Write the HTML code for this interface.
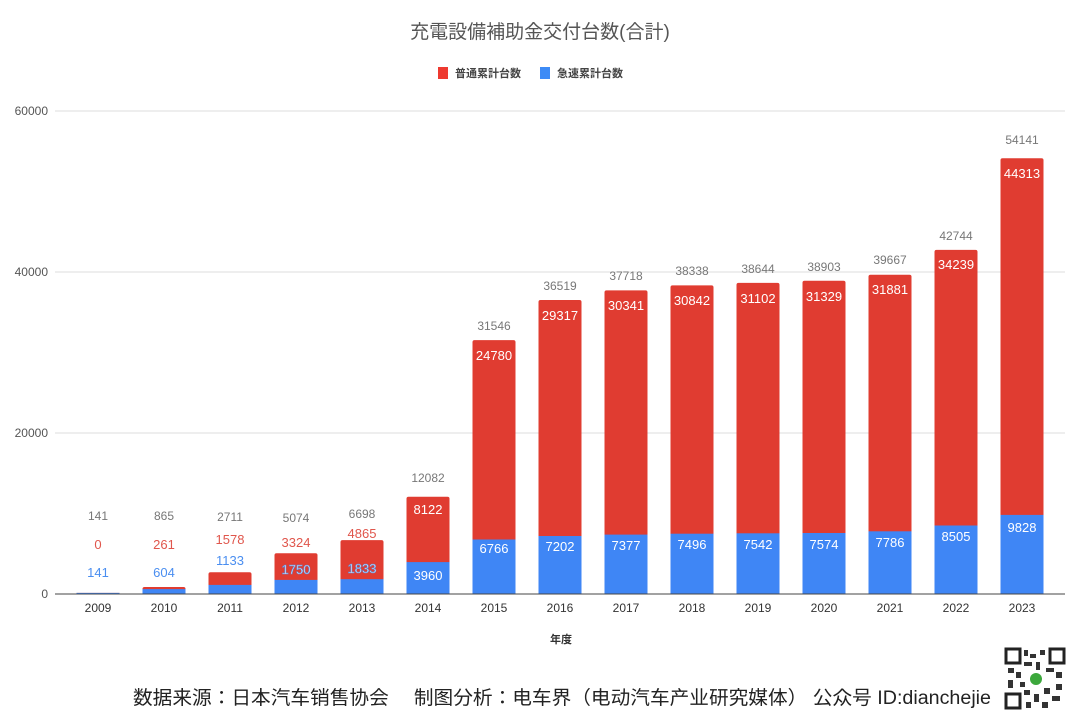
<!DOCTYPE html>
<html><head><meta charset="utf-8"><style>
body{margin:0;background:#fff;width:1080px;height:721px;overflow:hidden}
svg{display:block}
text{font-family:"Liberation Sans","Noto Sans CJK JP",sans-serif}
</style></head><body>
<svg width="1080" height="721" viewBox="0 0 1080 721" xmlns="http://www.w3.org/2000/svg">
<text x="540" y="38" text-anchor="middle" font-size="19" fill="#555" font-family="'Noto Sans CJK JP',sans-serif">充電設備補助金交付台数(合計)</text>
<rect x="438" y="67" width="10" height="12" fill="#ee3a30"/>
<text x="455" y="77" font-size="11" fill="#444" font-weight="bold" font-family="'Noto Sans CJK JP',sans-serif">普通累計台数</text>
<rect x="540" y="67" width="10" height="12" fill="#3d8bf6"/>
<text x="557" y="77" font-size="11" fill="#444" font-weight="bold" font-family="'Noto Sans CJK JP',sans-serif">急速累計台数</text>
<g stroke="#ddd" stroke-width="1">
<line x1="55" x2="1065" y1="111" y2="111"/><line x1="55" x2="1065" y1="272" y2="272"/><line x1="55" x2="1065" y1="433" y2="433"/>
</g>
<g font-size="12" fill="#555" text-anchor="end">
<text x="48" y="115">60000</text><text x="48" y="276">40000</text><text x="48" y="437">20000</text><text x="48" y="598">0</text>
</g>
<g fill="#e03c31">
<rect x="76.5" y="592.9" width="43" height="1.1"/>
<rect x="142.5" y="587" width="43" height="7" rx="2"/>
<rect x="208.5" y="572.2" width="43" height="21.8" rx="2"/>
<rect x="274.5" y="553.2" width="43" height="40.8" rx="2"/>
<rect x="340.5" y="540.1" width="43" height="53.9" rx="2"/>
<rect x="406.5" y="496.7" width="43" height="97.3" rx="2"/>
<rect x="472.5" y="340.1" width="43" height="253.9" rx="2"/>
<rect x="538.5" y="300" width="43" height="294" rx="2"/>
<rect x="604.5" y="290.4" width="43" height="303.6" rx="2"/>
<rect x="670.5" y="285.4" width="43" height="308.6" rx="2"/>
<rect x="736.5" y="282.9" width="43" height="311.1" rx="2"/>
<rect x="802.5" y="280.8" width="43" height="313.2" rx="2"/>
<rect x="868.5" y="274.7" width="43" height="319.3" rx="2"/>
<rect x="934.5" y="249.9" width="43" height="344.1" rx="2"/>
<rect x="1000.5" y="158.2" width="43" height="435.8" rx="2"/>
</g>
<g fill="#3f86f5">
<rect x="76.5" y="592.9" width="43" height="1.1"/>
<rect x="142.5" y="589.1" width="43" height="4.9"/>
<rect x="208.5" y="584.9" width="43" height="9.1"/>
<rect x="274.5" y="579.9" width="43" height="14.1"/>
<rect x="340.5" y="579.2" width="43" height="14.8"/>
<rect x="406.5" y="562.1" width="43" height="31.9"/>
<rect x="472.5" y="539.5" width="43" height="54.5"/>
<rect x="538.5" y="536" width="43" height="58"/>
<rect x="604.5" y="534.6" width="43" height="59.4"/>
<rect x="670.5" y="533.7" width="43" height="60.3"/>
<rect x="736.5" y="533.3" width="43" height="60.7"/>
<rect x="802.5" y="533" width="43" height="61"/>
<rect x="868.5" y="531.3" width="43" height="62.7"/>
<rect x="934.5" y="525.5" width="43" height="68.5"/>
<rect x="1000.5" y="514.9" width="43" height="79.1"/>
</g>
<line x1="55" x2="1065" y1="594" y2="594" stroke="#444" stroke-width="1"/>
<g font-size="12" fill="#333" text-anchor="middle">
<text x="98" y="612">2009</text><text x="164" y="612">2010</text><text x="230" y="612">2011</text><text x="296" y="612">2012</text><text x="362" y="612">2013</text><text x="428" y="612">2014</text><text x="494" y="612">2015</text><text x="560" y="612">2016</text><text x="626" y="612">2017</text><text x="692" y="612">2018</text><text x="758" y="612">2019</text><text x="824" y="612">2020</text><text x="890" y="612">2021</text><text x="956" y="612">2022</text><text x="1022" y="612">2023</text>
</g>
<g font-size="12" fill="#777" text-anchor="middle">
<text x="98" y="520">141</text><text x="164" y="520">865</text><text x="230" y="521">2711</text><text x="296" y="522">5074</text><text x="362" y="518">6698</text><text x="428" y="482">12082</text>
<text x="494" y="330">31546</text><text x="560" y="290">36519</text><text x="626" y="280">37718</text><text x="692" y="275">38338</text><text x="758" y="273">38644</text><text x="824" y="271">38903</text><text x="890" y="264">39667</text><text x="956" y="240">42744</text><text x="1022" y="144">54141</text>
</g>
<g font-size="13" fill="#e0564c" text-anchor="middle">
<text x="98" y="549">0</text><text x="164" y="549">261</text><text x="230" y="544">1578</text><text x="296" y="547">3324</text><text x="362" y="538">4865</text>
</g>
<g font-size="13" fill="#fff" text-anchor="middle">
<text x="428" y="514">8122</text><text x="494" y="360">24780</text><text x="560" y="320">29317</text><text x="626" y="310">30341</text><text x="692" y="305">30842</text><text x="758" y="303">31102</text><text x="824" y="301">31329</text><text x="890" y="294">31881</text><text x="956" y="269">34239</text><text x="1022" y="178">44313</text>
</g>
<g font-size="13" fill="#4a8ef0" text-anchor="middle">
<text x="98" y="577">141</text><text x="164" y="577">604</text><text x="230" y="565">1133</text>
</g>
<g font-size="13" fill="#fff" text-anchor="middle" stroke="#5b8fe0" stroke-width="0.6">
<text x="296" y="574">1750</text><text x="362" y="573">1833</text>
</g>
<g font-size="13" fill="#fff" text-anchor="middle">
<text x="428" y="580">3960</text><text x="494" y="553">6766</text><text x="560" y="551">7202</text><text x="626" y="550">7377</text><text x="692" y="549">7496</text><text x="758" y="549">7542</text><text x="824" y="549">7574</text><text x="890" y="547">7786</text><text x="956" y="541">8505</text><text x="1022" y="532">9828</text>
</g>
<text x="561" y="643" text-anchor="middle" font-size="11" font-weight="bold" fill="#333" font-family="'Noto Sans CJK JP',sans-serif">年度</text>
<text x="133" y="704" font-size="19" fill="#222" font-family="'Noto Sans CJK SC',sans-serif" textLength="858" lengthAdjust="spacingAndGlyphs">数据来源：日本汽车销售协会　 制图分析：电车界（电动汽车产业研究媒体） 公众号 ID:dianchejie</text>
<g>
<rect x="1005" y="648" width="60" height="62" fill="#fff"/>
<rect x="1006" y="649" width="14" height="14" fill="none" stroke="#222" stroke-width="3"/>
<rect x="1050" y="649" width="14" height="14" fill="none" stroke="#222" stroke-width="3"/>
<rect x="1006" y="694" width="14" height="14" fill="none" stroke="#222" stroke-width="3"/>
<g fill="#333">
<rect x="1024" y="650" width="4" height="6"/><rect x="1030" y="654" width="6" height="4"/><rect x="1040" y="650" width="5" height="5"/><rect x="1024" y="662" width="8" height="4"/><rect x="1036" y="662" width="4" height="8"/>
<rect x="1008" y="668" width="6" height="5"/><rect x="1016" y="672" width="5" height="6"/><rect x="1046" y="668" width="8" height="4"/><rect x="1056" y="672" width="6" height="6"/><rect x="1008" y="680" width="5" height="8"/>
<rect x="1024" y="690" width="6" height="5"/><rect x="1034" y="694" width="5" height="8"/><rect x="1044" y="688" width="6" height="6"/><rect x="1052" y="696" width="8" height="5"/><rect x="1026" y="702" width="5" height="6"/><rect x="1042" y="702" width="6" height="6"/><rect x="1056" y="684" width="6" height="6"/><rect x="1020" y="682" width="5" height="5"/>
</g>
<circle cx="1036" cy="679" r="6" fill="#3ca83c"/>
</g>
</svg>
</body></html>
